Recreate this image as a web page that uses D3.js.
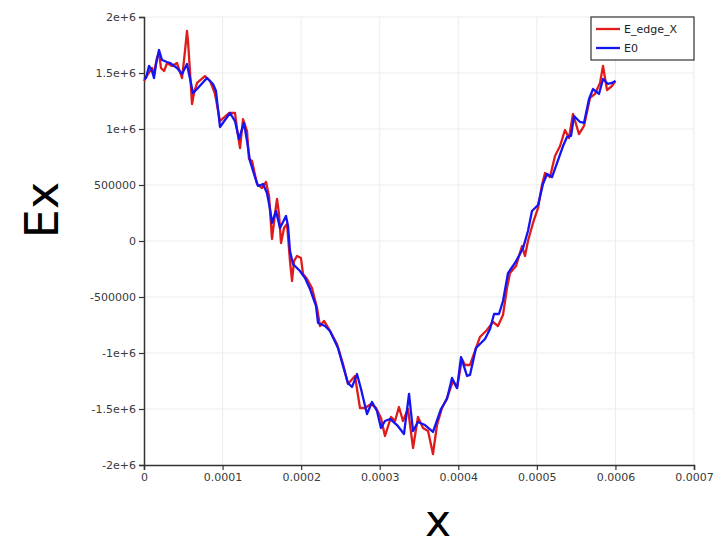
<!DOCTYPE html>
<html>
<head>
<meta charset="utf-8">
<script src="https://cdn.jsdelivr.net/npm/d3@7"></script>
<style>
  body { margin: 0; background: #fff; }
  text { font-family: "DejaVu Sans", sans-serif; }
</style>
</head>
<body>
<svg id="chart" width="722" height="547"></svg>
<script>
// E0 (blue)
var blueX = [0, 2.5e-6, 6.4e-6, 10.2e-6, 12.7e-6, 15.3e-6, 19.1e-6, 22.9e-6, 29.3e-6, 33.1e-6,
  42.0e-6, 48.4e-6, 54.7e-6, 57.3e-6, 62.4e-6, 67.5e-6, 80.2e-6, 87.8e-6, 91.6e-6, 96.7e-6,
  109.5e-6, 115.8e-6, 120.9e-6, 127.3e-6, 131.1e-6, 134.9e-6, 140.0e-6, 145.1e-6, 151.5e-6, 156.5e-6,
  160.4e-6, 162.9e-6, 168.0e-6, 173.1e-6, 180.7e-6, 183.3e-6, 185.8e-6, 189.6e-6, 198.5e-6, 204.9e-6,
  211.3e-6, 218.9e-6, 221.5e-6, 230.4e-6, 236.7e-6, 246.9e-6, 253.3e-6, 259.6e-6, 264.7e-6, 271.1e-6,
  276.2e-6, 283.8e-6, 290.2e-6, 296.5e-6, 301.6e-6, 306.7e-6, 313.1e-6, 322.0e-6, 330.9e-6, 337.3e-6,
  342.4e-6, 348.7e-6, 357.6e-6, 367.8e-6, 378.0e-6, 385.6e-6, 392.0e-6, 398.4e-6, 403.5e-6, 411.1e-6,
  414.9e-6, 422.5e-6, 427.6e-6, 434.0e-6, 440.4e-6, 445.5e-6, 451.8e-6, 456.9e-6, 463.3e-6, 472.2e-6,
  478.5e-6, 482.4e-6, 488.7e-6, 493.8e-6, 501.5e-6, 507.8e-6, 512.9e-6, 519.3e-6, 525.6e-6, 533.3e-6,
  538.4e-6, 543.5e-6, 547.3e-6, 554.9e-6, 560.0e-6, 566.4e-6, 571.5e-6, 579.1e-6, 584.2e-6, 590.5e-6,
  595.6e-6, 600e-6];
var blueY = [1.446e6, 1.455e6, 1.563e6, 1.518e6, 1.455e6, 1.580e6, 1.705e6, 1.616e6, 1.598e6, 1.589e6,
  1.545e6, 1.491e6, 1.580e6, 1.491e6, 1.321e6, 1.357e6, 1.455e6, 1.402e6, 1.339e6, 1.018e6,
  1.143e6, 1.071e6, 0.911e6, 1.054e6, 0.893e6, 0.714e6, 0.598e6, 0.491e6, 0.509e6, 0.429e6,
  0.286e6, 0.161e6, 0.268e6, 0.116e6, 0.223e6, 0.134e6, -0.089e6, -0.205e6, -0.268e6, -0.330e6,
  -0.429e6, -0.580e6, -0.732e6, -0.759e6, -0.804e6, -0.955e6, -1.116e6, -1.268e6, -1.304e6, -1.188e6,
  -1.321e6, -1.545e6, -1.438e6, -1.518e6, -1.670e6, -1.607e6, -1.589e6, -1.643e6, -1.723e6, -1.366e6,
  -1.697e6, -1.616e6, -1.643e6, -1.705e6, -1.500e6, -1.411e6, -1.223e6, -1.313e6, -1.036e6, -1.205e6,
  -1.196e6, -0.955e6, -0.920e6, -0.875e6, -0.786e6, -0.652e6, -0.652e6, -0.536e6, -0.286e6, -0.196e6,
  -0.116e6, -0.063e6, 0.089e6, 0.268e6, 0.321e6, 0.509e6, 0.598e6, 0.571e6, 0.696e6, 0.848e6,
  0.929e6, 0.938e6, 1.116e6, 1.063e6, 1.054e6, 1.268e6, 1.357e6, 1.313e6, 1.446e6, 1.402e6,
  1.411e6, 1.429e6];

// E_edge_X (red)
var redX = [0, 5.1e-6, 10.2e-6, 12.7e-6, 16.5e-6, 19.1e-6, 21.6e-6, 25.5e-6, 29.3e-6, 35.6e-6,
  42.0e-6, 48.4e-6, 52.2e-6, 54.7e-6, 56.0e-6, 58.5e-6, 61.1e-6, 63.6e-6, 67.5e-6, 77.6e-6,
  84.0e-6, 90.4e-6, 96.7e-6, 108.2e-6, 115.8e-6, 118.4e-6, 122.2e-6, 126.0e-6, 131.1e-6, 133.6e-6,
  137.5e-6, 143.8e-6, 150.2e-6, 155.3e-6, 159.1e-6, 162.9e-6, 166.7e-6, 169.3e-6, 171.8e-6, 174.4e-6,
  178.2e-6, 182.0e-6, 185.8e-6, 188.4e-6, 190.9e-6, 194.7e-6, 199.8e-6, 202.4e-6, 207.5e-6, 213.8e-6,
  220.2e-6, 224.0e-6, 229.1e-6, 235.4e-6, 245.6e-6, 253.3e-6, 259.6e-6, 268.5e-6, 274.9e-6, 281.3e-6,
  288.9e-6, 295.3e-6, 301.6e-6, 306.7e-6, 314.4e-6, 319.5e-6, 324.5e-6, 329.6e-6, 336.0e-6, 342.4e-6,
  348.7e-6, 355.1e-6, 361.5e-6, 367.8e-6, 372.9e-6, 379.3e-6, 385.6e-6, 393.3e-6, 398.4e-6, 404.7e-6,
  408.5e-6, 414.9e-6, 421.3e-6, 427.6e-6, 436.5e-6, 444.2e-6, 450.5e-6, 456.9e-6, 462.0e-6, 465.8e-6,
  473.5e-6, 481.1e-6, 484.9e-6, 488.7e-6, 495.1e-6, 501.5e-6, 506.5e-6, 510.4e-6, 516.7e-6, 523.1e-6,
  529.5e-6, 535.8e-6, 540.9e-6, 546.0e-6, 553.6e-6, 560.0e-6, 567.6e-6, 574.0e-6, 580.4e-6, 584.2e-6,
  589.3e-6, 595.6e-6, 600e-6];
var redY = [1.429e6, 1.491e6, 1.545e6, 1.491e6, 1.634e6, 1.679e6, 1.545e6, 1.518e6, 1.589e6, 1.563e6,
  1.589e6, 1.455e6, 1.697e6, 1.875e6, 1.786e6, 1.518e6, 1.223e6, 1.321e6, 1.411e6, 1.473e6,
  1.429e6, 1.313e6, 1.071e6, 1.143e6, 1.143e6, 1.000e6, 0.830e6, 1.089e6, 0.982e6, 0.732e6,
  0.714e6, 0.509e6, 0.473e6, 0.527e6, 0.402e6, 0.018e6, 0.241e6, 0.375e6, 0.241e6, -0.018e6,
  0.116e6, 0.152e6, -0.179e6, -0.357e6, -0.179e6, -0.134e6, -0.152e6, -0.295e6, -0.339e6, -0.420e6,
  -0.598e6, -0.759e6, -0.714e6, -0.786e6, -0.920e6, -1.098e6, -1.277e6, -1.205e6, -1.491e6, -1.491e6,
  -1.455e6, -1.491e6, -1.580e6, -1.741e6, -1.571e6, -1.607e6, -1.482e6, -1.607e6, -1.500e6, -1.848e6,
  -1.571e6, -1.670e6, -1.697e6, -1.902e6, -1.643e6, -1.491e6, -1.402e6, -1.250e6, -1.313e6, -1.054e6,
  -1.107e6, -1.107e6, -0.982e6, -0.857e6, -0.795e6, -0.723e6, -0.759e6, -0.661e6, -0.420e6, -0.286e6,
  -0.223e6, -0.045e6, -0.134e6, 0, 0.161e6, 0.295e6, 0.500e6, 0.607e6, 0.571e6, 0.759e6,
  0.848e6, 0.991e6, 0.920e6, 1.134e6, 0.955e6, 1.027e6, 1.277e6, 1.313e6, 1.411e6, 1.563e6,
  1.348e6, 1.384e6, 1.429e6];

var xTicks = [0, 0.0001, 0.0002, 0.0003, 0.0004, 0.0005, 0.0006, 0.0007];
var xTickLabels = ['0', '0.0001', '0.0002', '0.0003', '0.0004', '0.0005', '0.0006', '0.0007'];
var yTicks = [-2e6, -1.5e6, -1e6, -5e5, 0, 5e5, 1e6, 1.5e6, 2e6];
var yTickLabels = ['-2e+6', '-1.5e+6', '-1e+6', '-500000', '0', '500000', '1e+6', '1.5e+6', '2e+6'];

var seriesNames = ['E_edge_X', 'E0'];
var seriesColors = ['#e01b1b', '#1414f5'];

var plotLeft = 144, plotRight = 694, plotTop = 17, plotBottom = 465;

var svg = d3.select('#chart');
svg.append('rect').attr('width', 722).attr('height', 547).attr('fill', '#fff');

var x = d3.scaleLinear().domain([0, 0.0007]).range([plotLeft, plotRight]);
var y = d3.scaleLinear().domain([-2e6, 2e6]).range([plotBottom, plotTop]);

// grid
svg.append('g').selectAll('line').data(xTicks.slice(1)).enter().append('line')
  .attr('x1', function (d) { return x(d); }).attr('x2', function (d) { return x(d); })
  .attr('y1', plotTop).attr('y2', plotBottom)
  .attr('stroke', '#ececec').attr('stroke-width', 1);
svg.append('g').selectAll('line').data(yTicks.slice(1)).enter().append('line')
  .attr('x1', plotLeft).attr('x2', plotRight)
  .attr('y1', function (d) { return y(d); }).attr('y2', function (d) { return y(d); })
  .attr('stroke', '#ececec').attr('stroke-width', 1);

// axes
var xAxis = d3.axisBottom(x).tickValues(xTicks)
  .tickFormat(function (d, i) { return xTickLabels[i]; })
  .tickSize(5).tickPadding(3);
var yAxis = d3.axisLeft(y).tickValues(yTicks)
  .tickFormat(function (d, i) { return yTickLabels[i]; })
  .tickSize(5).tickPadding(3);

var gx = svg.append('g').attr('transform', 'translate(0,' + plotBottom + ')').call(xAxis);
var gy = svg.append('g').attr('transform', 'translate(' + plotLeft + ',0)').call(yAxis);
[gx, gy].forEach(function (g) {
  g.select('.domain').attr('stroke', '#333').attr('stroke-width', 1.5);
  g.selectAll('.tick line').attr('stroke', '#333').attr('stroke-width', 1.2);
  g.selectAll('.tick text')
    .attr('font-family', '"DejaVu Sans", sans-serif')
    .attr('font-size', 11)
    .attr('fill', '#3a3a3a');
});

// lines
var line = d3.line()
  .x(function (d) { return x(d[0]); })
  .y(function (d) { return y(d[1]); });

var redPts = d3.zip(redX, redY);
var bluePts = d3.zip(blueX, blueY);

svg.append('path').datum(redPts)
  .attr('d', line).attr('fill', 'none')
  .attr('stroke', seriesColors[0]).attr('stroke-width', 2.3)
  .attr('stroke-linejoin', 'round');
svg.append('path').datum(bluePts)
  .attr('d', line).attr('fill', 'none')
  .attr('stroke', seriesColors[1]).attr('stroke-width', 2.3)
  .attr('stroke-linejoin', 'round');

// axis titles
svg.append('text')
  .attr('transform', 'translate(58,210) rotate(-90)')
  .attr('text-anchor', 'middle')
  .attr('font-family', '"DejaVu Sans", sans-serif')
  .attr('font-size', 46)
  .attr('fill', '#000')
  .text('Ex');
svg.append('text')
  .attr('x', 438).attr('y', 536)
  .attr('text-anchor', 'middle')
  .attr('font-family', '"DejaVu Sans", sans-serif')
  .attr('font-size', 44)
  .attr('fill', '#000')
  .text('x');

// legend
var legend = svg.append('g').attr('transform', 'translate(591,17)');
legend.append('rect').attr('width', 103).attr('height', 43)
  .attr('fill', '#fff').attr('stroke', '#333').attr('stroke-width', 1.2);
seriesNames.forEach(function (name, i) {
  var ly = 12 + i * 19;
  legend.append('line').attr('x1', 5).attr('x2', 29).attr('y1', ly).attr('y2', ly)
    .attr('stroke', seriesColors[i]).attr('stroke-width', 2.3);
  legend.append('text').attr('x', 33).attr('y', ly + 4)
    .attr('font-family', '"DejaVu Sans", sans-serif')
    .attr('font-size', 11).attr('fill', '#222')
    .text(name);
});
</script>
</body>
</html>
